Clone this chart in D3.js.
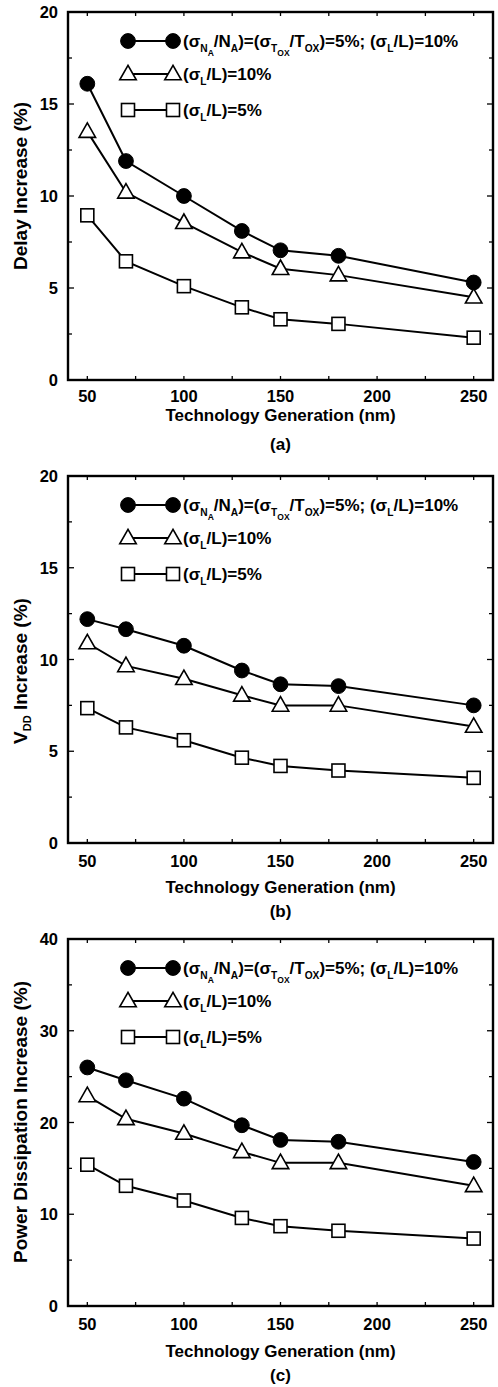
<!DOCTYPE html>
<html>
<head>
<meta charset="utf-8">
<script src="https://cdn.jsdelivr.net/npm/d3@7"></script>
<style>
  html, body { margin: 0; padding: 0; background: #fff; }
  svg { display: block; }
  text { font-family: "Liberation Sans", Arial, Helvetica, sans-serif; font-weight: bold; fill: #000; }
</style>
</head>
<body>
<script>
// Technology generations (nm)
const generations = [50, 70, 100, 130, 150, 180, 250];

// (a) Delay increase (%)
const delayAll = [16.1, 11.9, 10.0, 8.1, 7.05, 6.75, 5.3];
const delayL10 = [13.5, 10.2, 8.55, 6.95, 6.05, 5.7, 4.5];
const delayL5  = [8.95, 6.45, 5.1, 3.95, 3.3, 3.05, 2.3];

// (b) VDD increase (%)
const vddAll = [12.2, 11.65, 10.75, 9.4, 8.65, 8.55, 7.5];
const vddL10 = [10.9, 9.65, 8.95, 8.05, 7.5, 7.5, 6.35];
const vddL5  = [7.35, 6.3, 5.6, 4.65, 4.2, 3.95, 3.55];

// (c) Power dissipation increase (%)
const powerAll = [26.0, 24.6, 22.6, 19.7, 18.1, 17.9, 15.7];
const powerL10 = [22.9, 20.4, 18.8, 16.8, 15.6, 15.6, 13.1];
const powerL5  = [15.4, 13.1, 11.5, 9.6, 8.7, 8.2, 7.35];

// Axis ticks
const xTickLabels = [50, 100, 150, 200, 250];
const xMinorTicks = [50, 75, 100, 125, 150, 175, 200, 225, 250];
const yTicksAB = [0, 5, 10, 15, 20];
const yMinorAB = [2.5, 7.5, 12.5, 17.5];
const yTicksC = [0, 10, 20, 30, 40];
const yMinorC = [5, 15, 25, 35];

// Legend text pieces: [text, subscript level]
const legendAll = [["(σ",0],["N",1],["A",2],["/N",0],["A",1],[")=(σ",0],["T",1],["OX",2],["/T",0],["OX",1],[")=5%; (σ",0],["L",1],["/L)=10%",0]];
const legendL10 = [["(σ",0],["L",1],["/L)=10%",0]];
const legendL5  = [["(σ",0],["L",1],["/L)=5%",0]];

const W = 498, H = 1387;
const svg = d3.select("body").append("svg").attr("width", W).attr("height", H);

const xLeft = 68, xRight = 493;
const x = d3.scaleLinear().domain([40, 260]).range([xLeft, xRight]);

function richText(g, pieces, xPos, yPos, size) {
  const t = g.append("text").attr("x", xPos).attr("y", yPos).style("font-size", size + "px");
  let level = 0;
  const sizes = [size, size * 0.6, size * 0.5];
  const offs = [0, size * 0.28, size * 0.5];
  pieces.forEach(([s, lv]) => {
    const dy = offs[lv] - offs[level];
    t.append("tspan").attr("dy", dy).style("font-size", sizes[lv] + "px").text(s);
    level = lv;
  });
  return t;
}

function marker(g, type, cx, cy) {
  if (type === "circle") {
    g.append("circle").attr("cx", cx).attr("cy", cy).attr("r", 7.4)
      .attr("fill", "#000").attr("stroke", "#000").attr("stroke-width", 1);
  } else if (type === "triangle") {
    const s = 16.5, h = 14.5;
    const pts = [[cx, cy - h * 0.6], [cx - s / 2, cy + h * 0.4], [cx + s / 2, cy + h * 0.4]];
    g.append("polygon").attr("points", pts.map(p => p.join(",")).join(" "))
      .attr("fill", "#fff").attr("stroke", "#000").attr("stroke-width", 1.6);
  } else {
    g.append("rect").attr("x", cx - 6.5).attr("y", cy - 6.5).attr("width", 13).attr("height", 13)
      .attr("fill", "#fff").attr("stroke", "#000").attr("stroke-width", 1.6);
  }
}

function panel(cfg) {
  const g = svg.append("g");
  const y = d3.scaleLinear().domain(cfg.yDomain).range([cfg.bottom, cfg.top]);

  // series lines then markers
  cfg.series.forEach(s => {
    const line = d3.line().x((d, i) => x(generations[i])).y(d => y(d));
    g.append("path").datum(s.values).attr("d", line)
      .attr("fill", "none").attr("stroke", "#000").attr("stroke-width", 2);
  });
  cfg.series.forEach(s => {
    s.values.forEach((v, i) => marker(g, s.type, x(generations[i]), y(v)));
  });

  // frame
  g.append("rect").attr("x", xLeft).attr("y", cfg.top)
    .attr("width", xRight - xLeft).attr("height", cfg.bottom - cfg.top)
    .attr("fill", "none").attr("stroke", "#000").attr("stroke-width", 2.4);

  // inward ticks on all sides
  const tk = g.append("g").attr("stroke", "#000").attr("stroke-width", 1.3);
  cfg.yTicks.forEach(v => {
    tk.append("line").attr("x1", xLeft).attr("x2", xLeft + 6).attr("y1", y(v)).attr("y2", y(v));
    tk.append("line").attr("x1", xRight).attr("x2", xRight - 6).attr("y1", y(v)).attr("y2", y(v));
  });
  cfg.yMinor.forEach(v => {
    tk.append("line").attr("x1", xLeft).attr("x2", xLeft + 4).attr("y1", y(v)).attr("y2", y(v));
    tk.append("line").attr("x1", xRight).attr("x2", xRight - 4).attr("y1", y(v)).attr("y2", y(v));
  });
  xMinorTicks.forEach(v => {
    tk.append("line").attr("x1", x(v)).attr("x2", x(v)).attr("y1", cfg.bottom).attr("y2", cfg.bottom - 4);
    tk.append("line").attr("x1", x(v)).attr("x2", x(v)).attr("y1", cfg.top).attr("y2", cfg.top + 4);
  });

  // tick labels
  cfg.yTicks.forEach(v => {
    g.append("text").attr("x", xLeft - 10).attr("y", y(v) + 6)
      .attr("text-anchor", "end").style("font-size", "16.5px").text(v);
  });
  xTickLabels.forEach(v => {
    g.append("text").attr("x", x(v)).attr("y", cfg.bottom + cfg.offs[0])
      .attr("text-anchor", "middle").style("font-size", "16.5px").text(v);
  });

  // axis titles
  const cx = (xLeft + xRight) / 2;
  g.append("text").attr("x", cx).attr("y", cfg.bottom + cfg.offs[1])
    .attr("text-anchor", "middle").style("font-size", "17px").text("Technology Generation (nm)");
  g.append("text").attr("x", cx).attr("y", cfg.bottom + cfg.offs[2])
    .attr("text-anchor", "middle").style("font-size", "17px").text(cfg.tag);

  const yt = g.append("text").attr("transform", `translate(27,${cfg.yTitleCenter}) rotate(-90)`)
    .attr("text-anchor", "middle").style("font-size", "19px");
  let lvl = 0;
  cfg.yTitle.forEach(([s, lv]) => {
    const ts = yt.append("tspan").text(s);
    if (lv === 1) ts.style("font-size", "11px");
    if (lv !== lvl) ts.attr("dy", lv === 1 ? 4 : -4);
    lvl = lv;
  });

  // legend
  const lg = g.append("g");
  const rows = [
    { type: "circle", text: legendAll, dy: 29 },
    { type: "triangle", text: legendL10, dy: 62 },
    { type: "square", text: legendL5, dy: 98 }
  ];
  rows.forEach(r => {
    const ly = cfg.top + r.dy;
    lg.append("line").attr("x1", 128).attr("x2", 173).attr("y1", ly).attr("y2", ly)
      .attr("stroke", "#000").attr("stroke-width", 2);
    marker(lg, r.type, 128, ly);
    marker(lg, r.type, 173, ly);
    richText(lg, r.text, 183, ly + 6, 17);
  });
}

panel({
  top: 12, bottom: 380, yDomain: [0, 20], yTicks: yTicksAB, yMinor: yMinorAB, tag: "(a)",
  offs: [22, 41, 70], yTitleCenter: 186,
  yTitle: [["Delay Increase (%)", 0]],
  series: [
    { type: "circle", values: delayAll },
    { type: "triangle", values: delayL10 },
    { type: "square", values: delayL5 }
  ]
});

panel({
  top: 476, bottom: 843, yDomain: [0, 20], yTicks: yTicksAB, yMinor: yMinorAB, tag: "(b)",
  offs: [24, 50, 74], yTitleCenter: 671,
  yTitle: [["V", 0], ["DD", 1], [" Increase (%)", 0]],
  series: [
    { type: "circle", values: vddAll },
    { type: "triangle", values: vddL10 },
    { type: "square", values: vddL5 }
  ]
});

panel({
  top: 939, bottom: 1306, yDomain: [0, 40], yTicks: yTicksC, yMinor: yMinorC, tag: "(c)",
  offs: [24, 51, 75], yTitleCenter: 1122,
  yTitle: [["Power Dissipation Increase (%)", 0]],
  series: [
    { type: "circle", values: powerAll },
    { type: "triangle", values: powerL10 },
    { type: "square", values: powerL5 }
  ]
});
</script>
</body>
</html>
